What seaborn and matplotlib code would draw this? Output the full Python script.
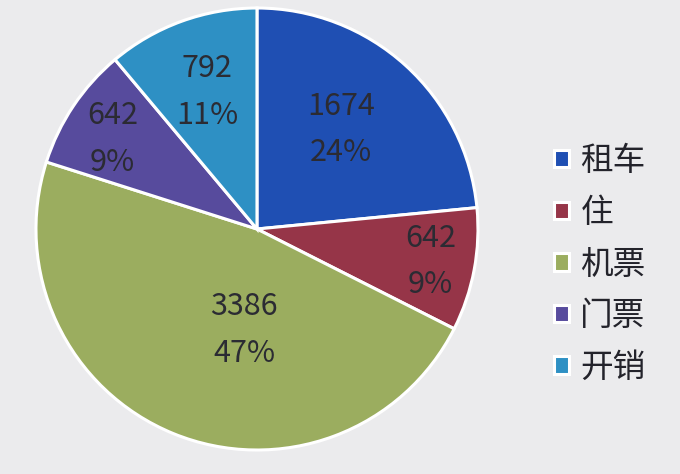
import numpy as np
import matplotlib
matplotlib.use("Agg")
import matplotlib.pyplot as plt
import seaborn as sns

# data
categories = ["租车", "住", "机票", "门票", "开销"]
values = [1674, 642, 3386, 642, 792]
percents = ["24%", "9%", "47%", "9%", "11%"]

colors = ["#1f4fb3", "#963548", "#9bad5f", "#574b9d", "#2e90c4"]
# label placement (radius fraction, angle nudge in degrees)
label_dist = [0.59, 0.80, 0.46, 0.77, 0.66]
label_nudge = [2, 0, 15, 2, 0]

sns.set_theme(style="white")
plt.rcParams['font.family'] = ['Noto Sans CJK SC', 'DejaVu Sans']

bg = "#ebebed"
fig = plt.figure(figsize=(6.8, 4.74), dpi=100, facecolor=bg)
ax = fig.add_axes([0.0529, 0.0506, 0.65, 0.9325])
ax.set_facecolor(bg)

wedges, _ = ax.pie(values, colors=colors, startangle=90, counterclock=False,
                   wedgeprops=dict(edgecolor="white", linewidth=2.2))

for w, v, p, d, n in zip(wedges, values, percents, label_dist, label_nudge):
    ang = np.deg2rad((w.theta1 + w.theta2) / 2 + n)
    ax.text(d * np.cos(ang), d * np.sin(ang), f"{v}\n{p}",
            ha="center", va="center", fontsize=22, color="#2b2b33",
            linespacing=1.65)

ax.set_xlim(-1, 1)
ax.set_ylim(-1, 1)
ax.set_aspect("equal")
ax.axis("off")

leg = fig.legend(wedges, categories, loc="center left",
                 bbox_to_anchor=(0.772, 0.442), frameon=False,
                 fontsize=23.5, handlelength=0.45, handleheight=0.45,
                 handletextpad=0.35, labelspacing=0.6)
for t in leg.get_texts():
    t.set_color("#23232b")

plt.savefig("out.png", dpi=100, facecolor=bg)
